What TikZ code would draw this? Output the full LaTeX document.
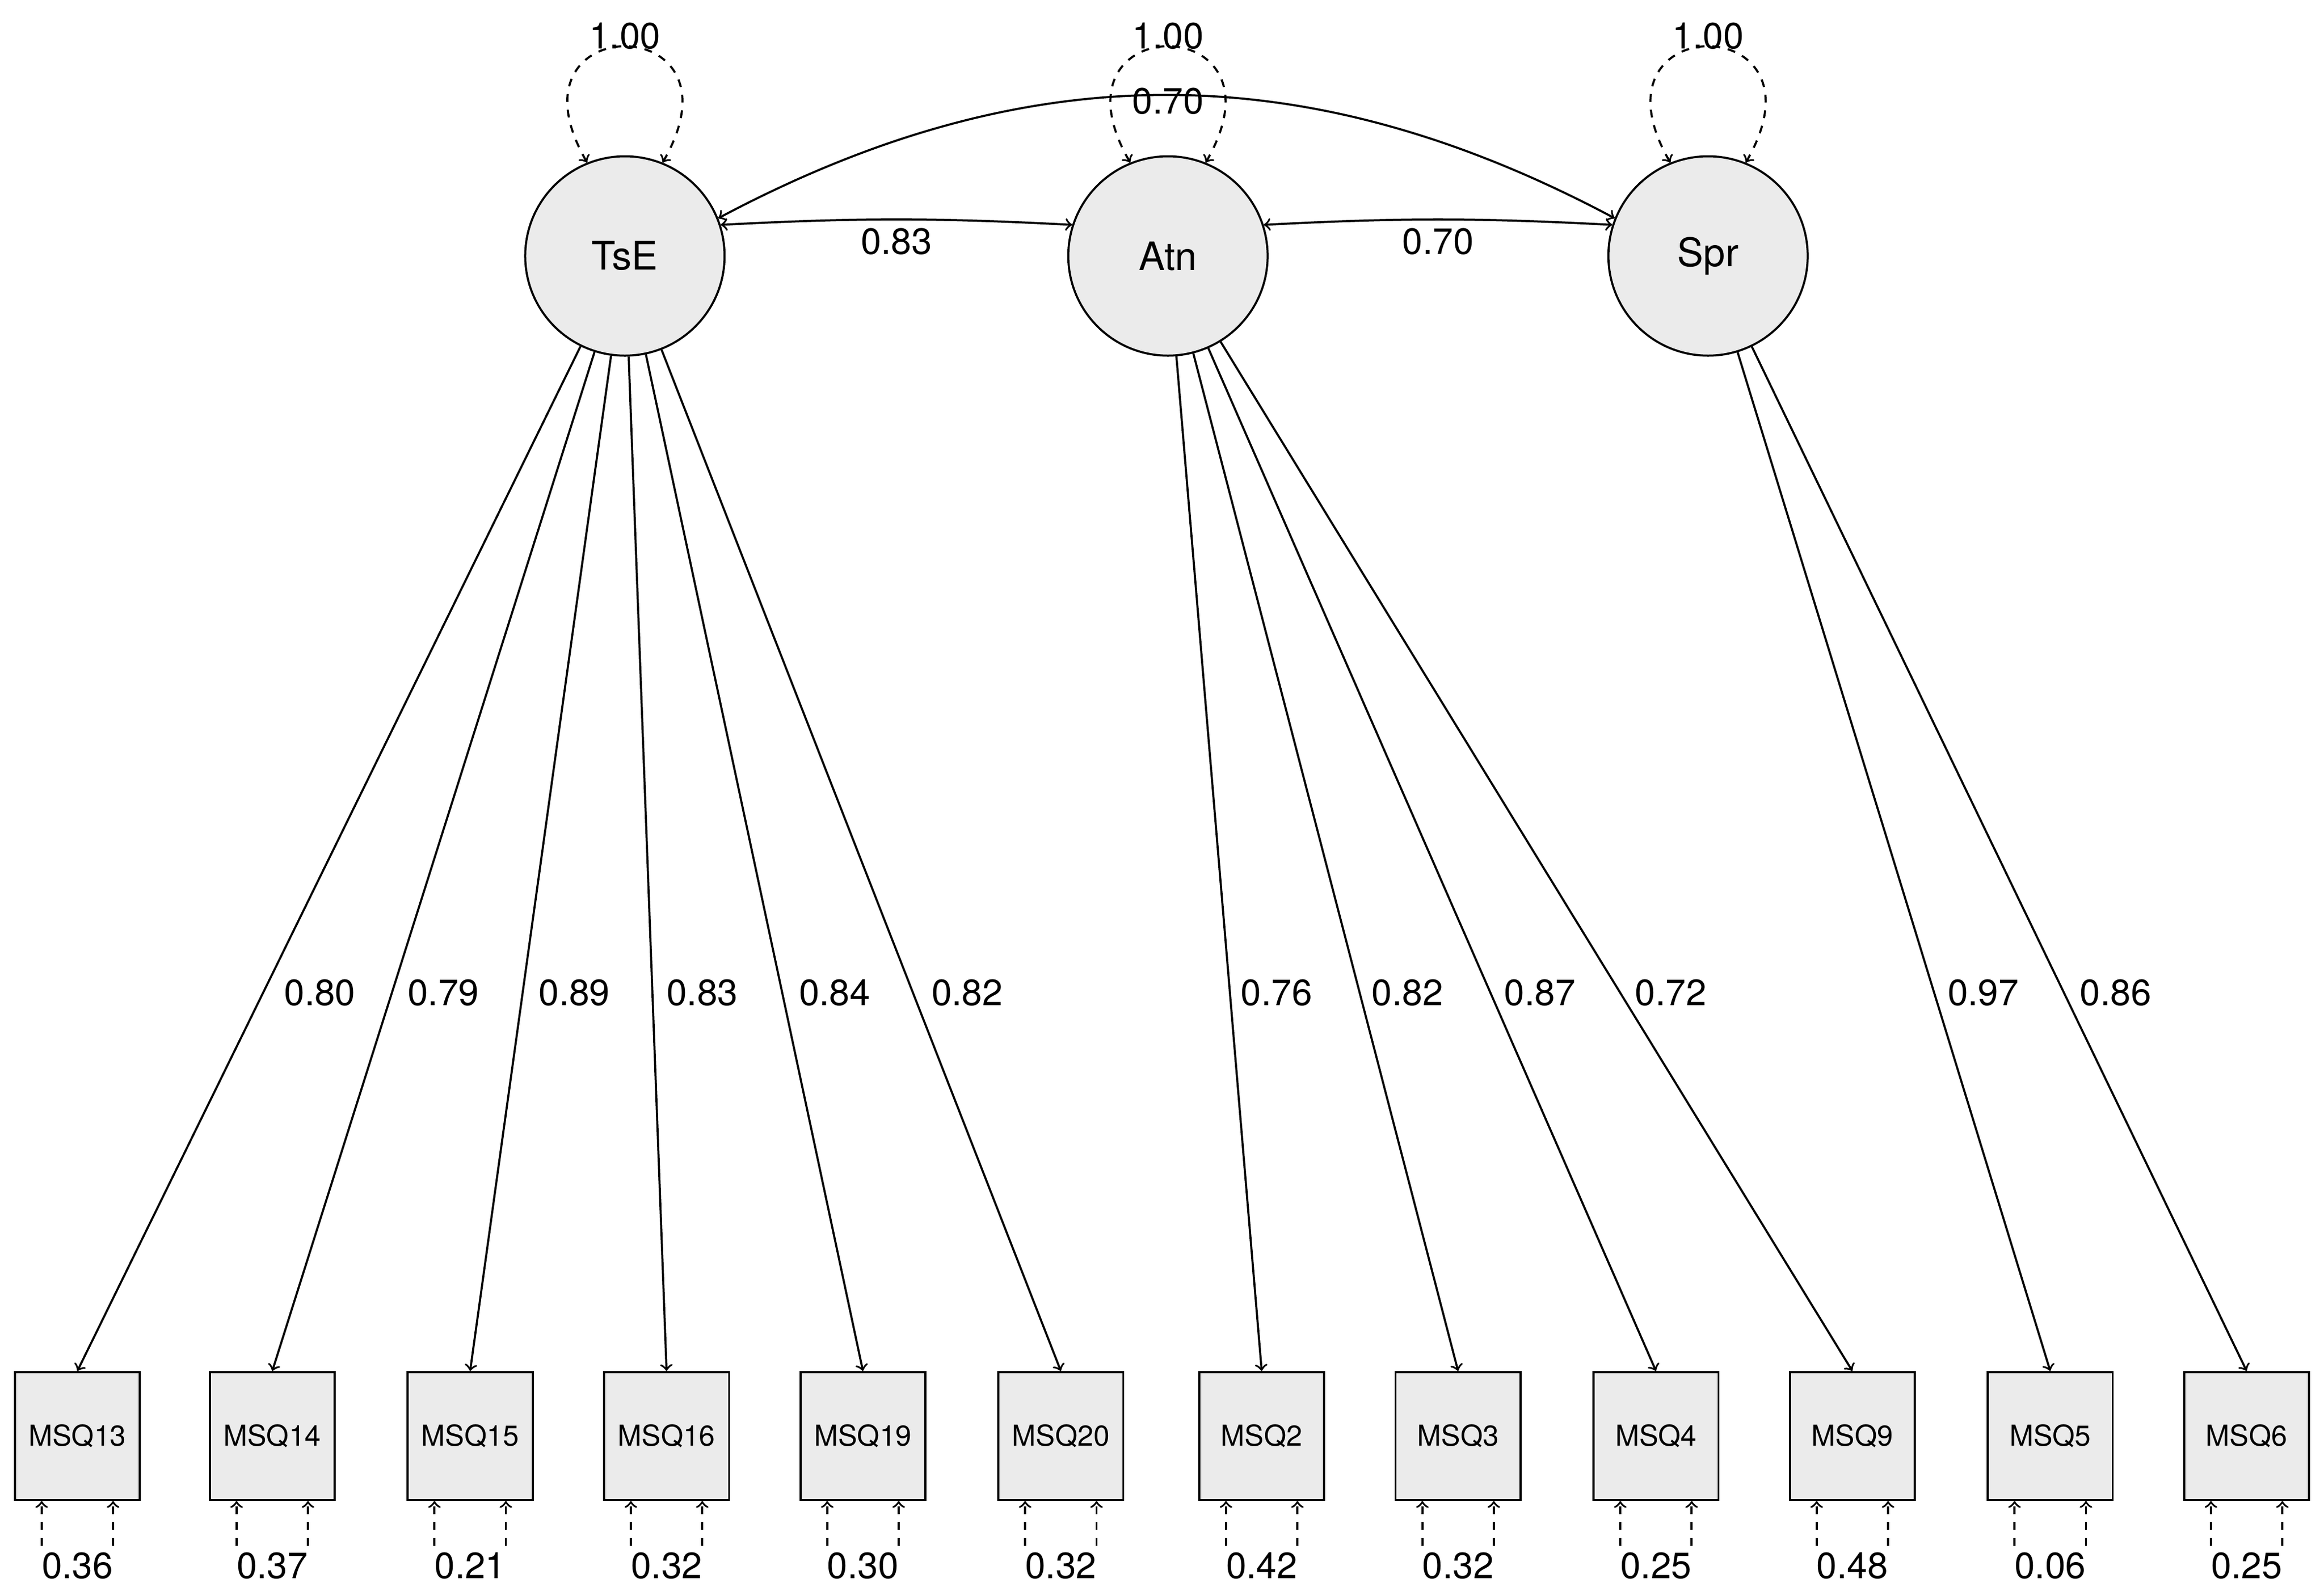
\documentclass[tikz,border=0pt]{standalone}
\usepackage{fontspec}
\setmainfont{TeX Gyre Heros}
\usetikzlibrary{calc}
\begin{document}
\begin{tikzpicture}[
  >=to,
  x=0.02cm,y=-0.02cm,
  line width=0.8pt,
  latent/.style={circle,draw=black,fill=black!8,minimum size=2.68cm,inner sep=0pt,font=\fontsize{15}{15}\selectfont},
  manifest/.style={rectangle,draw=black,fill=black!8,minimum width=1.68cm,minimum height=1.72cm,inner sep=0pt,font=\fontsize{11}{11}\selectfont},
  lbl/.style={font=\fontsize{14}{14}\selectfont,inner sep=1pt},
  var/.style={<->,dashed}
]
\useasboundingbox (0,0) rectangle (1562,1069);

% latent factors
\node[latent] (TsE) at (420,172) {TsE};
\node[latent] (Atn) at (785,172) {Atn};
\node[latent] (Spr) at (1148,172) {Spr};

\foreach \f in {TsE,Atn,Spr} {
  \draw[var] (\f.112) .. controls +(120:2.4cm) and +(60:2.4cm) .. (\f.68);
  \node[lbl] at ($(\f.north)+(0,-80)$) {1.00};
}

% covariances
\draw[<->] (TsE.18) to[bend left=3] node[lbl,pos=0.5,below=2pt] {0.83} (Atn.162);
\draw[<->] (Atn.18) to[bend left=3] node[lbl,pos=0.5,below=2pt] {0.70} (Spr.162);
\draw[<->] (TsE.22) to[out=28,in=152] (Spr.158);
\node[lbl] at (785,68) {0.70};

% indicators
\foreach \n/\name/\f/\load/\res/\lx [count=\i] in {
  52/MSQ13/TsE/0.80/0.36/215, 183/MSQ14/TsE/0.79/0.37/298, 316/MSQ15/TsE/0.89/0.21/386,
  448/MSQ16/TsE/0.83/0.32/472, 580/MSQ19/TsE/0.84/0.30/561, 713/MSQ20/TsE/0.82/0.32/650,
  848/MSQ2/Atn/0.76/0.42/858, 980/MSQ3/Atn/0.82/0.32/946, 1113/MSQ4/Atn/0.87/0.25/1035,
  1245/MSQ9/Atn/0.72/0.48/1123, 1378/MSQ5/Spr/0.97/0.06/1333, 1510/MSQ6/Spr/0.86/0.25/1422} {
  \node[manifest] (m\i) at (\n,965) {\name};
  \draw[->] (\f) -- (m\i.north);
  \node[lbl] at (\lx,667) {\load};
  \node[lbl] (r\i) at (\n,1052) {\res};
  \draw[->,dashed] ($(m\i.south)+(-24,30)$) -- ($(m\i.south)+(-24,0)$);
  \draw[->,dashed] ($(m\i.south)+(24,30)$) -- ($(m\i.south)+(24,0)$);
}
\end{tikzpicture}
\end{document}
